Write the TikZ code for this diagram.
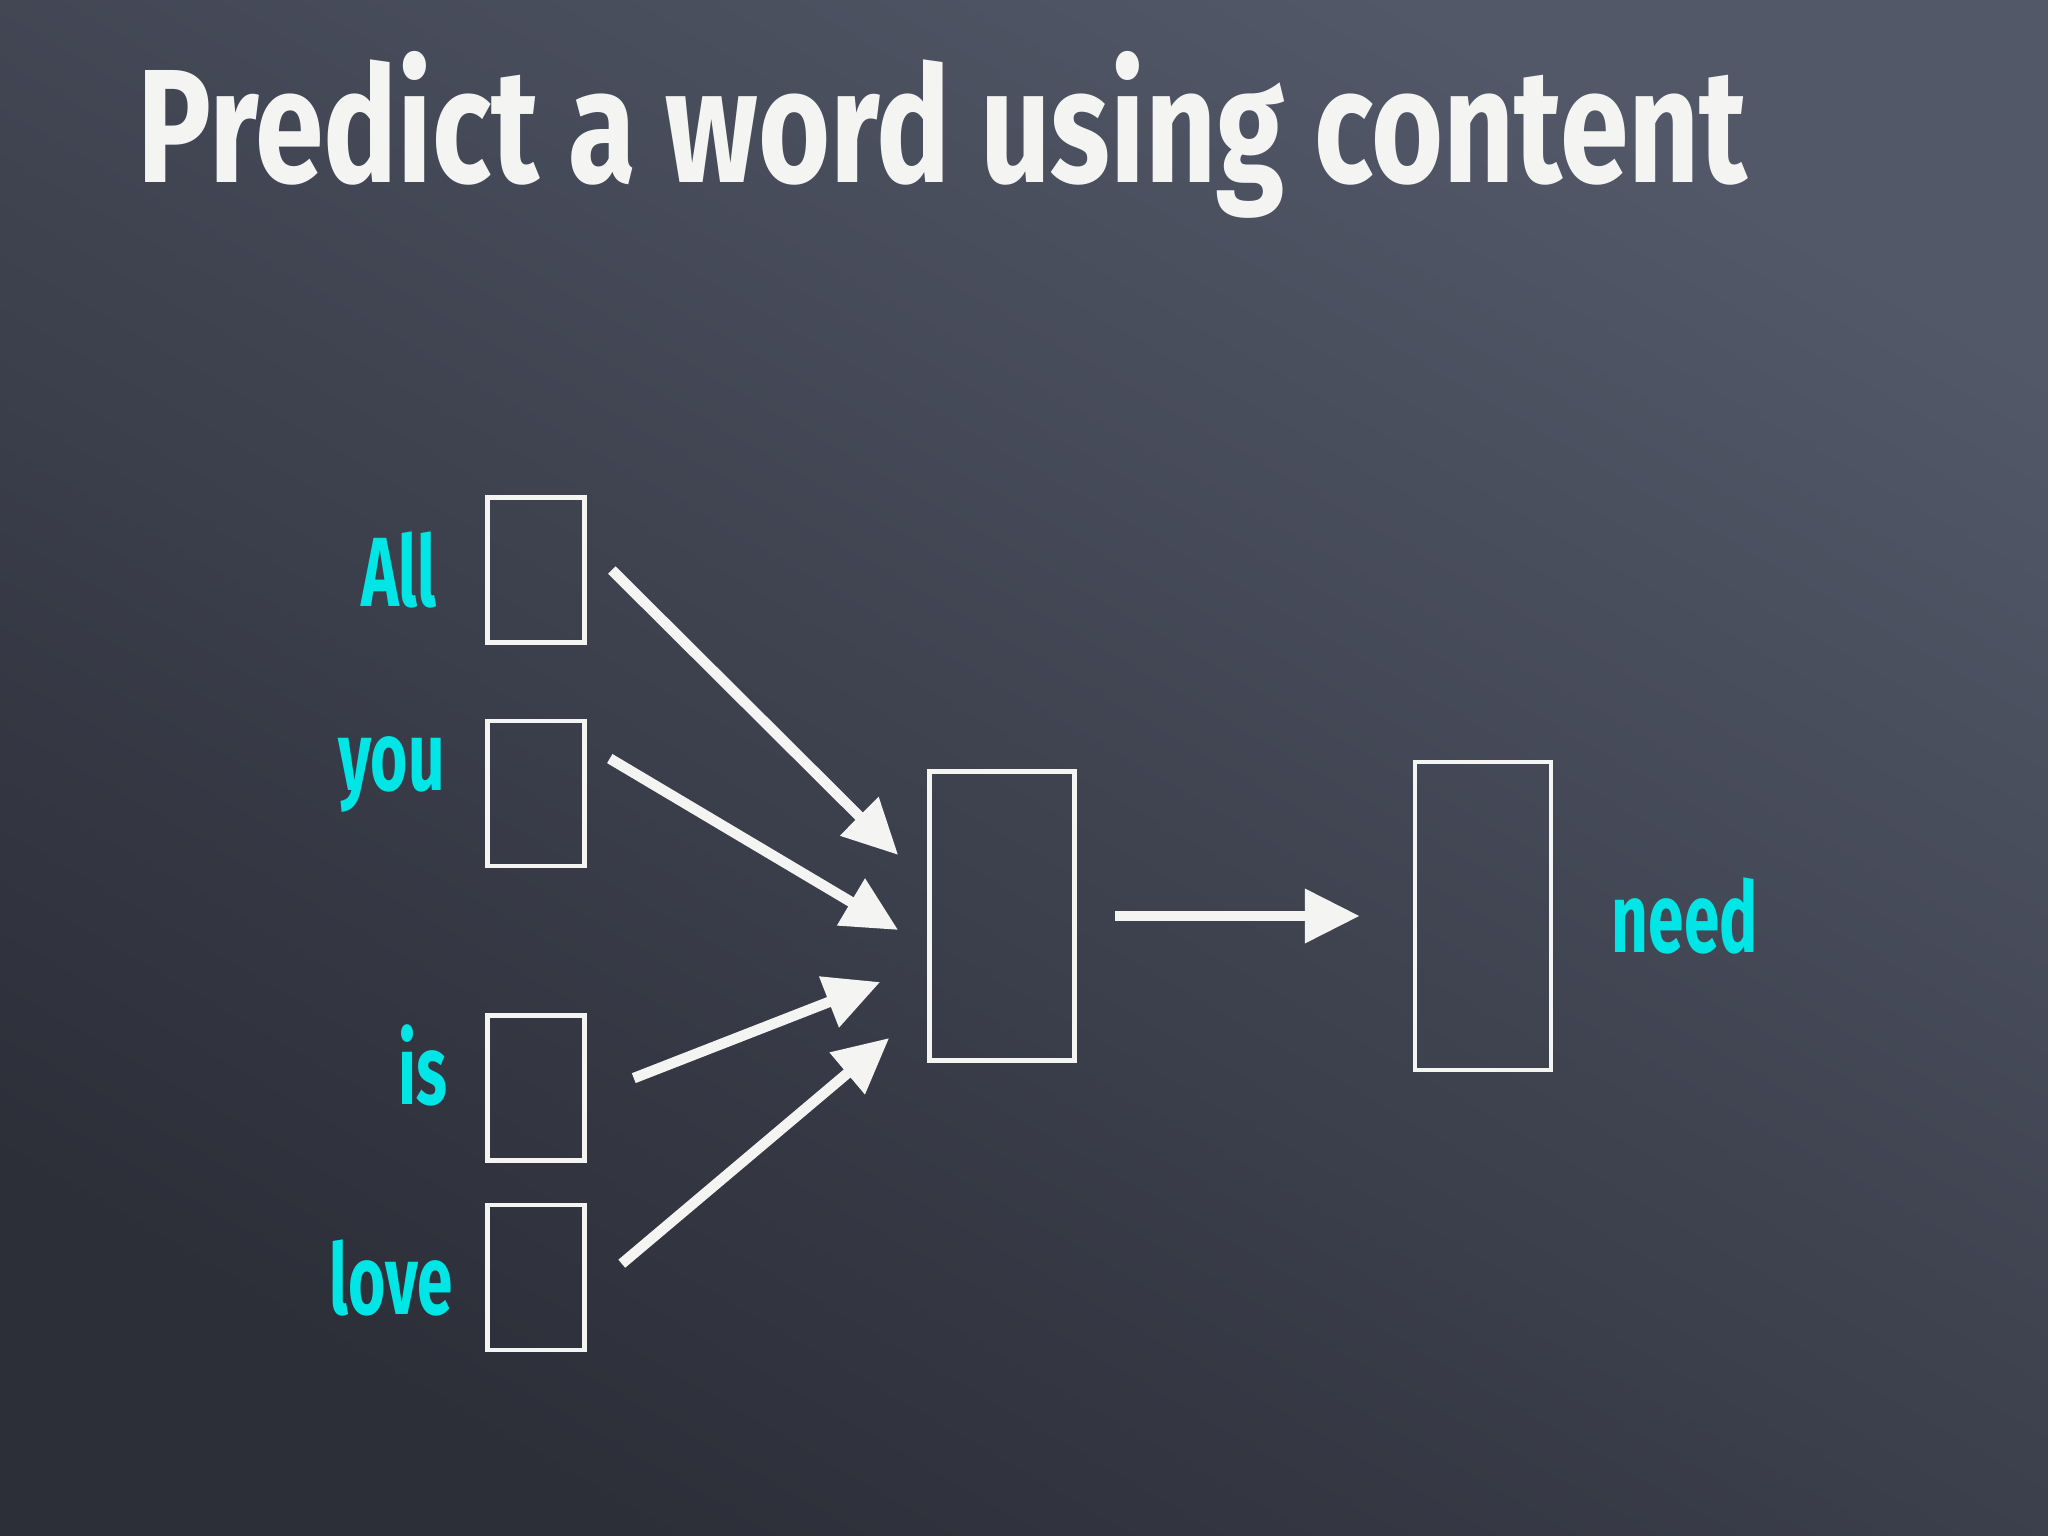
\documentclass[tikz,border=0pt]{standalone}
\usepackage{fontspec}
\setmainfont{Fira Sans}
\usetikzlibrary{positioning,arrows.meta}

\definecolor{boardlight}{HTML}{525868}
\definecolor{board}{HTML}{4A4F5D}
\definecolor{boarddark}{HTML}{2C2E38}
\definecolor{chalk}{HTML}{F4F4F2}
\definecolor{wordcyan}{HTML}{00E6E6}

\begin{document}
\begin{tikzpicture}[>=Triangle,
    wordbox/.style={draw=chalk,line width=1.3pt,minimum width=.97cm,minimum height=1.45cm,inner sep=0pt},
    hiddenbox/.style={wordbox,minimum width=1.45cm,minimum height=2.89cm},
    outbox/.style={wordbox,minimum width=1.36cm,minimum height=3.08cm},
    word/.style={text=wordcyan,font=\bfseries\fontsize{28}{32}\selectfont,xscale=.65,inner sep=0pt},
    chalkarrow/.style={draw=chalk,line width=3pt,-{Triangle[length=5.5mm,width=5.2mm]}}]

    % board
    \useasboundingbox (0,0) rectangle (20.48,-15.36);
    \shade[top color=boardlight,middle color=board,bottom color=boarddark,shading angle=-30] (0,0) rectangle (20.48,-15.36);

    \node[anchor=base west,text=chalk,font=\bfseries\fontsize{46}{50}\selectfont,xscale=.765,inner sep=0pt] (title) at (1.37,-1.83) {Predict a word using content};

    % context words
    \node[wordbox] (all) at (5.36,-5.70) {};
    \node[wordbox,below=.74cm of all] (you) {};
    \node[wordbox,below=1.45cm of you] (is) {};
    \node[wordbox,below=.40cm of is] (love) {};

    \node[word,left=.48cm of all] (lall) {All};
    \node[word,left=.40cm of you,yshift=.19cm] (lyou) {you};
    \node[word,left=.37cm of is,yshift=.23cm] (lis) {is};
    \node[word,left=.32cm of love] (llove) {love};

    % hidden and output
    \node[hiddenbox] (hidden) at (10.02,-9.16) {};
    \node[outbox,right=3.36cm of hidden] (out) {};
    \node[word,right=.58cm of out] (lneed) {need};

    \draw[chalkarrow] ([xshift=.25cm]all.east) -- ([xshift=-.29cm,yshift=.61cm]hidden.west);
    \draw[chalkarrow] ([xshift=.23cm,yshift=.35cm]you.east) -- ([xshift=-.29cm,yshift=-.14cm]hidden.west);
    \draw[chalkarrow] ([xshift=.47cm,yshift=.10cm]is.east) -- ([xshift=-.47cm,yshift=-.66cm]hidden.west);
    \draw[chalkarrow] ([xshift=.35cm,yshift=.14cm]love.east) -- ([xshift=-.38cm,yshift=-1.22cm]hidden.west);
    \draw[chalkarrow] ([xshift=.38cm]hidden.east) -- ([xshift=-.53cm]out.west);
\end{tikzpicture}
\end{document}
